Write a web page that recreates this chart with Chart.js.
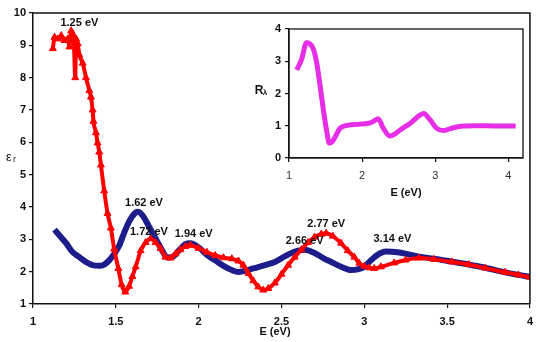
<!DOCTYPE html>
<html>
<head>
<meta charset="utf-8">
<script src="https://cdn.jsdelivr.net/npm/chart.js@4.4.1/dist/chart.umd.min.js"></script>
<style>
  html, body { margin: 0; padding: 0; background: #fff; }
  #wrap { position: relative; width: 540px; height: 342px; }
  #main { position: absolute; left: 0; top: 0; }
  #inset { position: absolute; left: 240px; top: 14px; }
</style>
</head>
<body>
<div id="wrap">
  <canvas id="main" width="540" height="342"></canvas>
  <canvas id="inset" width="298" height="190"></canvas>
</div>
<script>
// ---- data ----
const redE = [1.12,1.13,1.15,1.17,1.19,1.21,1.22,1.23,1.245,1.255,1.26,1.27,1.28,1.30,1.32,1.34,1.35,1.36,1.365,1.38,1.39,1.40,1.41,1.43,1.45,1.47,1.49,1.515,1.535,1.557,1.58,1.60,1.62,1.65,1.68,1.71,1.74,1.77,1.80,1.83,1.86,1.89,1.92,1.95,2.00,2.05,2.10,2.15,2.20,2.24,2.27,2.30,2.33,2.36,2.39,2.42,2.46,2.50,2.54,2.58,2.62,2.66,2.70,2.74,2.77,2.81,2.86,2.90,2.94,2.97,3.00,3.03,3.06,3.10,3.18,3.25,3.33,3.42,3.53,3.63,3.73,3.85,3.93,4.00];
const redV = [8.9,9.25,9.2,9.3,9.15,9.2,8.95,9.45,9.3,8.0,9.2,9.05,8.7,8.45,8.0,7.6,7.4,7.0,6.65,6.3,5.98,5.7,5.3,4.5,3.8,3.35,2.7,2.1,1.6,1.37,1.55,1.85,2.15,2.65,2.9,3.02,2.9,2.72,2.45,2.42,2.55,2.68,2.78,2.82,2.72,2.6,2.5,2.43,2.4,2.33,2.2,1.95,1.72,1.53,1.43,1.48,1.65,1.92,2.2,2.45,2.68,2.9,3.07,3.16,3.19,3.1,2.88,2.65,2.45,2.26,2.17,2.12,2.1,2.15,2.27,2.36,2.42,2.38,2.3,2.22,2.11,1.98,1.9,1.83];

const blueE = [1.13,1.16,1.20,1.24,1.28,1.32,1.36,1.40,1.43,1.46,1.49,1.52,1.55,1.58,1.61,1.63,1.66,1.70,1.74,1.78,1.81,1.84,1.88,1.92,1.95,2.00,2.05,2.10,2.15,2.20,2.24,2.28,2.33,2.40,2.46,2.52,2.57,2.64,2.70,2.75,2.80,2.86,2.92,2.96,3.00,3.04,3.08,3.13,3.20,3.28,3.35,3.45,3.53,3.63,3.73,3.85,3.93,4.00];
const blueV = [3.3,3.12,2.88,2.6,2.45,2.3,2.2,2.18,2.22,2.35,2.55,2.8,3.2,3.55,3.78,3.85,3.75,3.4,3.03,2.65,2.44,2.45,2.65,2.85,2.88,2.75,2.52,2.35,2.18,2.05,1.99,2.03,2.1,2.2,2.3,2.47,2.6,2.68,2.58,2.43,2.3,2.15,2.05,2.07,2.15,2.35,2.52,2.62,2.6,2.52,2.45,2.38,2.31,2.22,2.12,1.98,1.9,1.84];

const insetE = [1.105,1.17,1.24,1.28,1.33,1.38,1.42,1.47,1.52,1.55,1.59,1.63,1.70,1.81,1.97,2.11,2.20,2.22,2.29,2.38,2.45,2.52,2.66,2.79,2.84,2.93,3.02,3.11,3.25,3.39,3.55,3.71,3.90,4.10];
const insetV = [2.73,3.04,3.57,3.55,3.4,2.94,2.32,1.49,0.77,0.46,0.5,0.65,0.93,1.02,1.05,1.09,1.2,1.22,0.92,0.68,0.75,0.87,1.08,1.33,1.38,1.18,0.92,0.85,0.94,0.99,1.0,1.0,0.99,0.99];

const mainXTicks = [1, 1.5, 2, 2.5, 3, 3.5, 4];
const mainYTicks = [1, 2, 3, 4, 5, 6, 7, 8, 9, 10];
const insetXTicks = [1, 2, 3, 4];
const insetYTicks = [0, 1, 2, 3, 4];

const peakLabels = ["1.25 eV", "1.62 eV", "1.72 eV", "1.94 eV", "2.66 eV", "2.77 eV", "3.14 eV"];
const peakLabelE = [1.28, 1.67, 1.70, 1.97, 2.64, 2.77, 3.17];
const peakLabelV = [9.7, 4.13, 3.23, 3.17, 2.95, 3.48, 3.0];

const FONT = "'Liberation Sans', Arial, sans-serif";
const pts = (xs, ys) => xs.map((x, i) => ({ x: x, y: ys[i] }));

// ---- plugins ----
const frameMain = {
  id: 'frameMain',
  afterDraw(chart) {
    const { ctx, chartArea: a } = chart;
    ctx.save();
    ctx.strokeStyle = '#111';
    ctx.lineWidth = 1.5;
    ctx.beginPath();
    ctx.moveTo(a.left, a.top);
    ctx.lineTo(a.right, a.top);
    ctx.lineTo(a.right, a.bottom);
    ctx.stroke();
    // text
    ctx.fillStyle = '#111';
    ctx.font = 'bold 11px ' + FONT;
    ctx.textAlign = 'center';
    ctx.textBaseline = 'middle';
    const xs = chart.scales.x, ys = chart.scales.y;
    peakLabels.forEach((t, i) => {
      ctx.fillText(t, xs.getPixelForValue(peakLabelE[i]), ys.getPixelForValue(peakLabelV[i]));
    });
    ctx.fillText('E (eV)', 275, 332);
    ctx.font = '13px ' + FONT;
    ctx.fillText('\u03B5', 9, 157);
    ctx.font = '9px ' + FONT;
    ctx.fillText('r', 14.5, 160);
    ctx.restore();
  }
};

const frameInset = {
  id: 'frameInset',
  afterDraw(chart) {
    const { ctx, chartArea: a } = chart;
    ctx.save();
    ctx.strokeStyle = '#111';
    ctx.lineWidth = 1.3;
    ctx.strokeRect(a.left, a.top, a.right - a.left, a.bottom - a.top);
    ctx.fillStyle = '#111';
    ctx.textAlign = 'center';
    ctx.textBaseline = 'middle';
    ctx.font = 'bold 11px ' + FONT;
    ctx.fillText('E (eV)', (a.left + a.right) / 2, 179);
    ctx.font = 'bold 12px ' + FONT;
    ctx.fillText('R', 19, 77);
    ctx.font = 'bold 8px ' + FONT;
    ctx.fillText('\u03BB', 25, 79);
    ctx.restore();
  }
};

// ---- main chart ----
new Chart(document.getElementById('main'), {
  type: 'line',
  data: {
    datasets: [
      {
        data: pts(redE, redV),
        borderColor: '#ff0000',
        backgroundColor: '#ff0000',
        borderWidth: 4,
        pointStyle: 'triangle',
        pointRadius: 4,
        pointBorderWidth: 1,
        pointBorderColor: '#ff0000',
        cubicInterpolationMode: 'monotone'
      },
      {
        data: pts(blueE, blueV),
        borderColor: '#1c1c8a',
        backgroundColor: '#1c1c8a',
        borderWidth: 6,
        pointRadius: 0,
        cubicInterpolationMode: 'monotone'
      }
    ]
  },
  options: {
    responsive: false,
    animation: false,
    parsing: true,
    layout: { padding: { top: 13, right: 1, left: 0, bottom: 0 } },
    plugins: { legend: { display: false }, tooltip: { enabled: false } },
    scales: {
      x: {
        type: 'linear', min: 1, max: 4,
        afterBuildTicks: s => { s.ticks = mainXTicks.map(v => ({ value: v })); },
        afterFit: s => { s.height = 38; },
        grid: { drawOnChartArea: false, drawTicks: true, tickLength: 4, color: '#111', lineWidth: 1.2 },
        border: { display: true, color: '#111', width: 1.5 },
        ticks: { color: '#111', padding: 7, maxRotation: 0, autoSkip: false,
                 font: { family: FONT, size: 11, weight: 'bold' },
                 callback: v => String(v) }
      },
      y: {
        type: 'linear', min: 1, max: 10,
        afterBuildTicks: s => { s.ticks = mainYTicks.map(v => ({ value: v })); },
        afterFit: s => { s.width = 33; },
        grid: { drawOnChartArea: false, drawTicks: true, tickLength: 4, color: '#111', lineWidth: 1.2 },
        border: { display: true, color: '#111', width: 1.5 },
        ticks: { color: '#111', padding: 3, autoSkip: false,
                 font: { family: FONT, size: 11, weight: 'bold' },
                 callback: v => String(v) }
      }
    }
  },
  plugins: [frameMain]
});

// ---- inset chart ----
new Chart(document.getElementById('inset'), {
  type: 'line',
  data: {
    datasets: [{
      data: pts(insetE, insetV),
      borderColor: '#e62ee6',
      backgroundColor: '#e62ee6',
      borderWidth: 5,
      pointRadius: 0,
      cubicInterpolationMode: 'monotone'
    }]
  },
  options: {
    responsive: false,
    animation: false,
    layout: { padding: { top: 15, right: 15, left: 0, bottom: 0 } },
    plugins: { legend: { display: false }, tooltip: { enabled: false } },
    scales: {
      x: {
        type: 'linear', min: 1, max: 4.2,
        afterBuildTicks: s => { s.ticks = insetXTicks.map(v => ({ value: v })); },
        afterFit: s => { s.height = 46; },
        grid: { drawOnChartArea: false, drawTicks: true, tickLength: 4, color: '#111', lineWidth: 1.2 },
        border: { display: true, color: '#111', width: 1.3 },
        ticks: { color: '#333', padding: 7, maxRotation: 0, autoSkip: false,
                 font: { family: FONT, size: 11 },
                 callback: v => String(v) }
      },
      y: {
        type: 'linear', min: 0, max: 4,
        afterBuildTicks: s => { s.ticks = insetYTicks.map(v => ({ value: v })); },
        afterFit: s => { s.width = 49; },
        grid: { drawOnChartArea: false, drawTicks: true, tickLength: 4, color: '#111', lineWidth: 1.2 },
        border: { display: true, color: '#111', width: 1.3 },
        ticks: { color: '#111', padding: 4, autoSkip: false,
                 font: { family: FONT, size: 11, weight: 'bold' },
                 callback: v => String(v) }
      }
    }
  },
  plugins: [frameInset]
});
</script>
</body>
</html>
